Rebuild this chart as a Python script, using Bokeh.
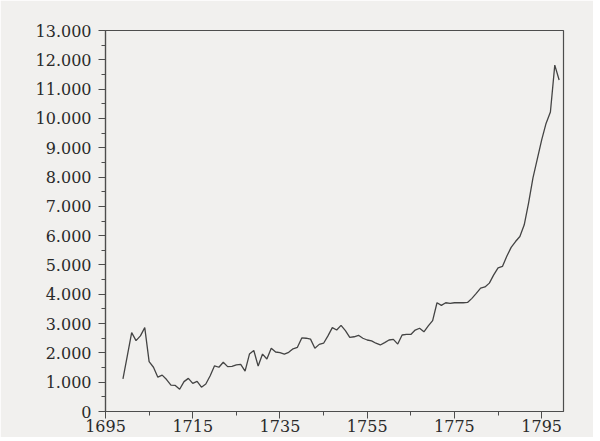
from bokeh.plotting import figure
from bokeh.models import FixedTicker, Range1d
from bokeh.embed import file_html
from bokeh.resources import INLINE

# --- data ---
years = list(range(1699, 1800))
values = [
    1110, 1900, 2690, 2420, 2580, 2860, 1700, 1510, 1170, 1240,   # 1699-1708
    1090, 900, 890, 760, 1020, 1130, 960, 1030, 830, 940,          # 1709-1718
    1220, 1560, 1510, 1680, 1530, 1540, 1590, 1610, 1380, 1960,    # 1719-1728
    2080, 1550, 1960, 1790, 2160, 2030, 2010, 1960, 2020, 2140,    # 1729-1738
    2190, 2510, 2500, 2470, 2160, 2290, 2330, 2580, 2860, 2780,    # 1739-1748
    2940, 2760, 2530, 2550, 2600, 2500, 2440, 2410, 2330, 2270,    # 1749-1758
    2350, 2440, 2460, 2300, 2610, 2630, 2630, 2780, 2840, 2720,    # 1759-1768
    2920, 3100, 3710, 3620, 3710, 3690, 3710, 3710, 3710, 3720,    # 1769-1778
    3860, 4030, 4210, 4250, 4380, 4660, 4900, 4950, 5300, 5600,    # 1779-1788
    5800, 5970, 6370, 7120, 7970, 8620, 9270, 9830, 10220, 11820,  # 1789-1798
    11310,                                                         # 1799
]

x_ticks = [1695, 1715, 1735, 1755, 1775, 1795]
x_minor = [1705, 1725, 1745, 1765, 1785]
y_ticks = [0, 1000, 2000, 3000, 4000, 5000, 6000, 7000, 8000, 9000, 10000, 11000, 12000, 13000]
y_tick_labels = ["0", "1.000", "2.000", "3.000", "4.000", "5.000", "6.000", "7.000",
                 "8.000", "9.000", "10.000", "11.000", "12.000", "13.000"]
y_minor = [500 + 1000 * i for i in range(13)]

BG = "#f1f0ee"
INK = "#4d4d4d"
FONT = "DejaVu Serif"

p = figure(frame_width=458, frame_height=381,
           min_border_left=105, min_border_right=30, min_border_top=30, min_border_bottom=26,
           x_range=Range1d(1695, 1800), y_range=Range1d(0, 13000),
           output_backend="svg", toolbar_location=None)

p.background_fill_color = BG
p.border_fill_color = BG
p.outline_line_color = INK
p.outline_line_width = 1.2
p.xgrid.visible = False
p.ygrid.visible = False

p.line(years, values, line_color="#444444", line_width=1.3)

p.xaxis.ticker = FixedTicker(ticks=x_ticks, minor_ticks=x_minor)
p.yaxis.ticker = FixedTicker(ticks=y_ticks, minor_ticks=y_minor)
p.yaxis.major_label_overrides = {t: l for t, l in zip(y_ticks, y_tick_labels)}

for ax in (p.xaxis[0], p.yaxis[0]):
    ax.axis_line_color = INK
    ax.axis_line_width = 1.2
    ax.major_tick_line_color = INK
    ax.minor_tick_line_color = INK
    ax.major_tick_out = 7
    ax.major_tick_in = 0
    ax.minor_tick_out = 4
    ax.minor_tick_in = 0
    ax.major_label_text_font = FONT
    ax.major_label_text_font_size = "16px"
    ax.major_label_text_color = "#2a2a2a"

p.xaxis.major_label_standoff = 1
p.yaxis.major_label_standoff = 7

open("out.html", "w").write(file_html(p, INLINE))
